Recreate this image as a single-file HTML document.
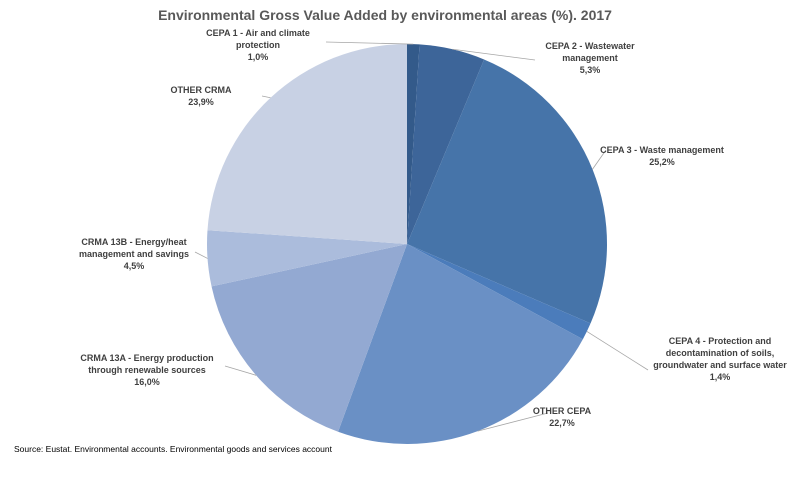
<!DOCTYPE html>
<html><head><meta charset="utf-8"><style>
body{margin:0;background:#fff}
svg text{font-family:"Liberation Sans",sans-serif;font-weight:bold;fill:#404040;font-size:9px}
</style></head><body>
<svg width="800" height="478">
<text x="385" y="20" text-anchor="middle" style="font-size:14px;fill:#595959">Environmental Gross Value Added by environmental areas (%). 2017</text>
<g id="slices"></g><g id="leaders"></g><g id="labels"></g>
<text x="14" y="452" style="font-weight:normal;font-size:8.5px;fill:#000">Source: Eustat. Environmental accounts. Environmental goods and services account</text>
</svg>
<script>
const categories=["CEPA 1 - Air and climate protection","CEPA 2 - Wastewater management","CEPA 3 - Waste management","CEPA 4 - Protection and decontamination of soils, groundwater and surface water","OTHER CEPA","CRMA 13A - Energy production through renewable sources","CRMA 13B - Energy/heat management and savings","OTHER CRMA"];
const values=[1.0,5.3,25.2,1.4,22.7,16.0,4.5,23.9];
const labelLines=[["CEPA 1 - Air and climate","protection"],["CEPA 2 - Wastewater","management"],["CEPA 3 - Waste management"],["CEPA 4 - Protection and","decontamination of soils,","groundwater and surface water"],["OTHER CEPA"],["CRMA 13A - Energy production","through renewable sources"],["CRMA 13B - Energy/heat","management and savings"],["OTHER CRMA"]];
const colors=["#335a8a","#3d6599","#4674a9","#4b7cbb","#6a90c5","#93a9d2","#abbcdc","#c8d1e4"];
const labelPos=[[258,36],[590,49],[662,153],[720,344],[562,414],[147,361],[134,245],[201,93]];
const leaderEnd=[[326,42],[535,60],[606,150],[648,370],[548,413],[225,366],[195,252],[262,96]];
const cx=407,cy=244,r=200;
const NS="http://www.w3.org/2000/svg";
const total=values.reduce((a,b)=>a+b,0);
function pt(a,rr){return [cx+rr*Math.sin(a),cy-rr*Math.cos(a)];}
let a0=0;
const gS=document.getElementById('slices'),gL=document.getElementById('labels'),gK=document.getElementById('leaders');
values.forEach((v,i)=>{
 const a1=a0+v/total*2*Math.PI;
 const p0=pt(a0,r),p1=pt(a1,r);
 const p=document.createElementNS(NS,'path');
 p.setAttribute('d',`M${cx},${cy}L${p0[0]},${p0[1]}A${r},${r} 0 ${a1-a0>Math.PI?1:0} 1 ${p1[0]},${p1[1]}Z`);
 p.setAttribute('fill',colors[i]);
 
 
 gS.appendChild(p);
 const am=(a0+a1)/2,e=pt(am,r);
 const [lx,ly]=labelPos[i];
 const lines=labelLines[i].concat([values[i].toFixed(1).replace('.',',')+'%']);
 const t=document.createElementNS(NS,'text');
 t.setAttribute('text-anchor','middle');
 
 
 lines.forEach((s,j)=>{const ts=document.createElementNS(NS,'tspan');ts.setAttribute('x',lx);ts.setAttribute('y',ly+j*12);ts.textContent=s;t.appendChild(ts);});
 gL.appendChild(t);
 const [tx,ty]=leaderEnd[i];
 const l=document.createElementNS(NS,'polyline');
 l.setAttribute('points',`${e[0]},${e[1]} ${tx},${ty}`);
 l.setAttribute('stroke','#a6a6a6');l.setAttribute('fill','none');l.setAttribute('stroke-width','0.8');
 
 
 gK.appendChild(l);
 a0=a1;
});
</script>
</body></html>
